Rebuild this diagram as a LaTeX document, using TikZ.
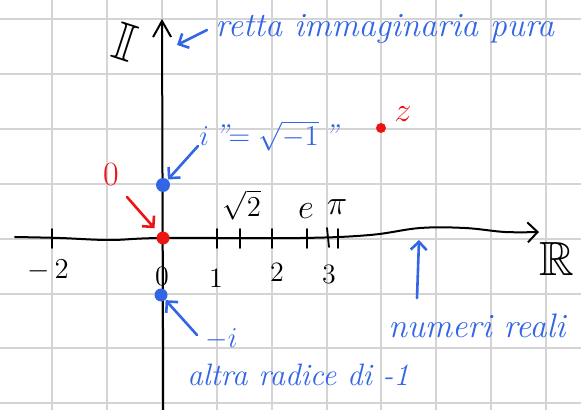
\documentclass[tikz,border=0pt]{standalone}
\usepackage{amssymb}
\usetikzlibrary{arrows.meta}
\definecolor{pen}{RGB}{51,102,230}
\definecolor{redpen}{RGB}{238,20,20}
\definecolor{gridc}{RGB}{212,212,212}
\begin{document}
\begin{tikzpicture}[x=0.5pt,y=-0.5pt,
  gridline/.style={draw=gridc, line width=1pt},
  axisline/.style={draw=black, line width=1pt, line cap=round},
  tickline/.style={draw=black, line width=0.9pt, line cap=round},
  bluearrow/.style={draw=pen, line width=1.3pt, line cap=round, -{Straight Barb[length=4pt,width=8pt]}},
  redarrow/.style={draw=redpen, line width=1.3pt, line cap=round, -{Straight Barb[length=4pt,width=8pt]}},
  dotnode/.style={circle, inner sep=0pt, minimum size=#1},
  bluetext/.style={text=pen, inner sep=0pt, font=\itshape\fontsize{17}{20}\selectfont},
  numlabel/.style={text=black, inner sep=0pt, font=\fontsize{14}{16}\selectfont},
]
\useasboundingbox (0,0) rectangle (581,410);
\fill[white] (0,0) rectangle (581,410);
% grid
\foreach \i in {0,...,9} \draw[gridline] ({52+54.9*\i},0) -- ({52+54.9*\i},410);
\foreach \j in {0,...,7} \draw[gridline] (0,{19+54.9*\j}) -- (581,{19+54.9*\j});

% axes
\coordinate (xs) at (15,237);
\coordinate (xe) at (539,232);
\coordinate (ys) at (163,410);
\coordinate (ye) at (162,19);
\draw[axisline, -{Straight Barb[length=5pt,width=10pt]}] plot[smooth, tension=0.6] coordinates {(xs) (60,238) (110,240) (162,238) (300,238) (370,235) (420,228) (465,228) (505,232) (xe)};
\draw[axisline, -{Straight Barb[length=8pt,width=9pt]}] (ys) -- (163,330) -- (ye);

% ticks
\foreach \x in {52,217,240,272,307,338} \draw[tickline] (\x,229) -- (\x,248);
\draw[tickline] (327,228) -- (329,247);

% tick labels
\node[numlabel] (lm2) at (48,270) {$-\,2$};
\node[numlabel] (l0) at (162,276) {0};
\node[numlabel] (l1) at (216,278) {1};
\node[numlabel] (l2) at (277,272) {2};
\node[numlabel] (l3) at (329,274) {3};
\node[numlabel, font=\fontsize{15}{17}\selectfont] (lsq) at (242,205) {$\sqrt{2}$};
\node[numlabel, font=\fontsize{17}{19}\selectfont] (le) at (306,211) {$e$};
\node[numlabel, font=\fontsize{17}{19}\selectfont] (lpi) at (337,207) {$\pi$};

% axis names
\node[inner sep=0pt, font=\fontsize{27}{30}\selectfont, rotate=-18] (II) at (125,42) {$\mathbb{I}$};
\node[inner sep=0pt, font=\fontsize{24}{26}\selectfont] (RR) at (557,259) {$\mathbb{R}$};

% points
\node[dotnode=7pt, fill=pen] (pi) at (163,185) {};
\node[dotnode=6.5pt, fill=redpen] (po) at (163,238) {};
\node[dotnode=6.5pt, fill=pen] (pmi) at (161,295) {};
\node[dotnode=5pt, fill=redpen] (pz) at (381,128) {};

% red labels
\node[text=redpen, inner sep=0pt, font=\fontsize{17}{19}\selectfont] (lo) at (111,175) {0};
\node[text=redpen, inner sep=0pt, font=\fontsize{17}{19}\selectfont] (lz) at (403,114) {$z$};
\coordinate (ros) at (127,197);
\draw[redarrow, shorten >=3pt] (ros) -- (po);

% blue texts
\node[bluetext, anchor=base west] (rt) at (215,37) {retta immaginaria pura};
\coordinate (rts) at (207,30);
\coordinate (rte) at (177,45);
\draw[bluearrow] (rts) -- (rte);

\node[text=pen, inner sep=0pt, anchor=base west, font=\itshape\fontsize{15}{17}\selectfont] (il) at (199,146) {$i$\,''$=\sqrt{-1}\,$''};
\coordinate (ias) at (198,146);
\draw[bluearrow] (ias) -- (pi);

\node[text=pen, inner sep=0pt, anchor=base west, font=\itshape\fontsize{15}{17}\selectfont] (mil) at (205,347) {$-i$};
\coordinate (mas) at (197,335);
\draw[bluearrow] (mas) -- (pmi);

\node[bluetext, anchor=base west, font=\itshape\fontsize{15.5}{18}\selectfont] (ar) at (187,385) {altra radice di -1};

\node[bluetext, anchor=base west] (nr) at (388,337) {numeri reali};
\coordinate (nrs) at (417,298);
\coordinate (nre) at (419,240);
\draw[bluearrow] (nrs) -- (nre);
\end{tikzpicture}
\end{document}
